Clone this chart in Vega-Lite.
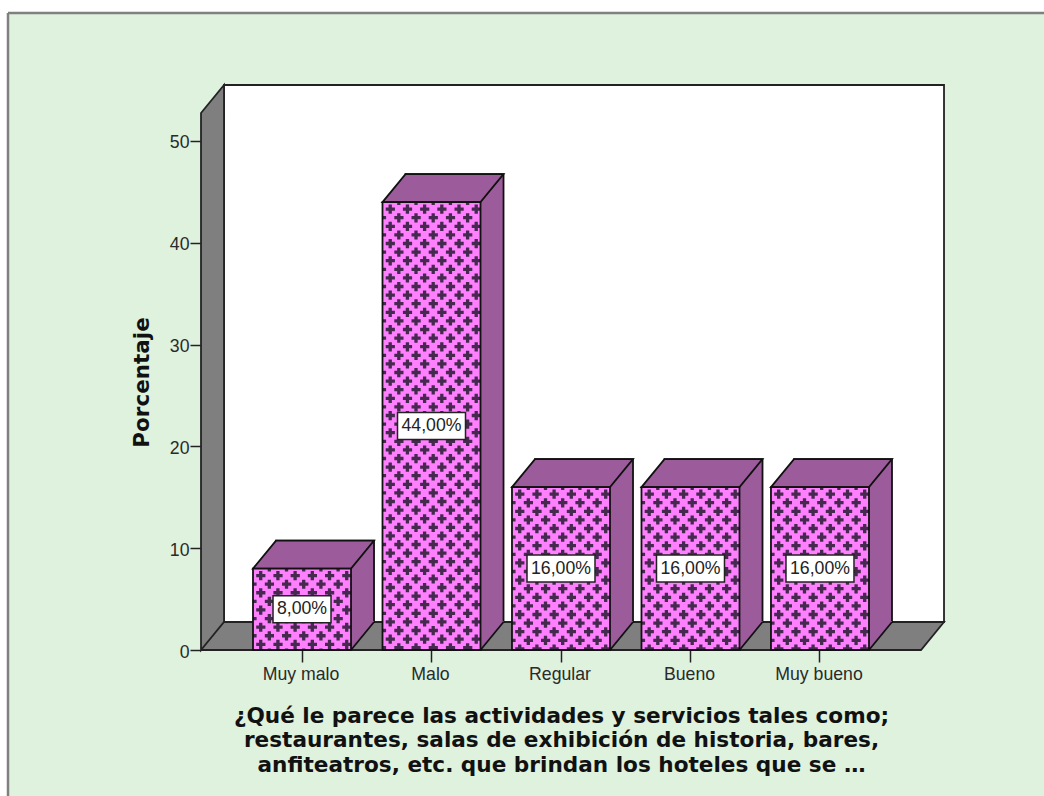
{"$schema":"https://vega.github.io/schema/vega-lite/v6.json","width":1036,"height":783,"autosize":{"type":"none"},"padding":{"left":8,"top":13,"right":0,"bottom":0},"background":"#ffffff","view":{"fill":"#def2de","stroke":null},"data":{"values":[{"categoria":"Muy malo","porcentaje":8,"etiqueta":"8,00%"},{"categoria":"Malo","porcentaje":44,"etiqueta":"44,00%"},{"categoria":"Regular","porcentaje":16,"etiqueta":"16,00%"},{"categoria":"Bueno","porcentaje":16,"etiqueta":"16,00%"},{"categoria":"Muy bueno","porcentaje":16,"etiqueta":"16,00%"}]},"encoding":{"x":{"field":"categoria","type":"nominal","scale":{"type":"band","domain":["Muy malo","Malo","Regular","Bueno","Muy bueno"],"range":[245,861],"paddingInner":0.243,"paddingOuter":0},"axis":{"orient":"bottom","offset":-146,"domain":false,"grid":false,"labelAngle":0,"labelFont":"Liberation Sans","labelFontSize":17.7,"labelColor":"#2a2a2a","labelPadding":3,"labelOffset":-1,"tickSize":12,"tickColor":"#222222","tickWidth":1.5,"title":["¿Qué le parece las actividades y servicios tales como;","restaurantes, salas de exhibición de historia, bares,","anfiteatros, etc. que brindan los hoteles que se …"],"titleFont":"DejaVu Sans","titleFontSize":21.6,"titleFontWeight":"bold","titleColor":"#111111","titleLineHeight":24.5,"titleX":553,"titleY":72,"titleBaseline":"alphabetic","titleAlign":"center","titleAnchor":"middle"}},"y":{"field":"porcentaje","type":"quantitative","scale":{"domain":[0,52.75],"range":[637,100],"nice":false},"axis":{"orient":"left","offset":-193,"domain":false,"grid":false,"values":[0,10,20,30,40,50],"labelFont":"Liberation Sans","labelFontSize":17.7,"labelColor":"#2a2a2a","labelPadding":1,"labelOffset":2,"tickSize":11,"tickColor":"#222222","tickWidth":1.5,"title":"Porcentaje","titleFont":"DejaVu Sans","titleFontSize":21.5,"titleFontWeight":"bold","titleColor":"#111111","titleX":-53,"titleY":369,"titleBaseline":"alphabetic","titleAlign":"center"}}},"layer":[{"transform":[{"filter":"datum.categoria === 'Muy malo'"}],"mark":{"type":"rule","color":"#808080","strokeWidth":2.5},"encoding":{"x":{"value":0},"y":{"value":0},"y2":{"value":783}}},{"transform":[{"filter":"datum.categoria === 'Muy malo'"}],"mark":{"type":"rule","color":"#808080","strokeWidth":2.5},"encoding":{"x":{"value":0},"x2":{"value":1036},"y":{"value":0}}},{"transform":[{"filter":"datum.categoria === 'Muy malo'"}],"mark":{"type":"point","shape":"M-78 -565L642 -565L642 -28L-78 -28Z","size":4,"filled":true,"fill":"#ffffff","stroke":"#222222","strokeWidth":1.8,"opacity":1},"encoding":{"y":{"datum":0}}},{"transform":[{"filter":"datum.categoria === 'Muy malo'"}],"mark":{"type":"point","shape":"M-101 -537L-78 -565L-78 -28L-101 0ZM-101 0L-78 -28L642 -28L619 0Z","size":4,"filled":true,"fill":"#7f7f7f","stroke":"#222222","strokeWidth":1.8,"opacity":1},"encoding":{"y":{"datum":0}}},{"mark":{"type":"bar","fill":"#9c5c9c","stroke":"#111111","strokeWidth":1.8,"xOffset":23,"x2Offset":23,"yOffset":-28,"y2Offset":-28},"encoding":{"y2":{"datum":0}}},{"mark":{"type":"point","shape":"M49 0L72 -28L72 -29L49 -29Z","size":4,"filled":true,"fill":"#9c5c9c","strokeWidth":0,"opacity":1},"encoding":{"y":{"datum":0}}},{"mark":{"type":"point","shape":"M49 0L72 -28","size":4,"filled":false,"stroke":"#111111","strokeWidth":1.8,"opacity":1},"encoding":{"y":{"datum":0}}},{"mark":{"type":"point","shape":"M-49 0L-26 -28L72 -28L49 0Z","size":4,"filled":true,"fill":"#9c5c9c","stroke":"#111111","strokeWidth":1.8,"opacity":1}},{"mark":{"type":"bar","fill":"#ff80ff","strokeWidth":0},"encoding":{"y2":{"datum":0}}},{"mark":{"type":"point","size":4,"filled":false,"stroke":"#45294f","strokeWidth":3.3,"strokeDash":[9.2,8],"opacity":1},"encoding":{"shape":{"field":"etiqueta","type":"nominal","legend":null,"scale":{"domain":["8,00%","44,00%","16,00%"],"range":["M-45.8 7h94.8m-98 8.6h3.6m8.2 0h86.2m-94.8 8.6h94.8m-98 8.6h3.6m8.2 0h86.2m-94.8 8.6h94.8m-98 8.6h3.6m8.2 0h86.2m-94.8 8.6h94.8m-98 8.6h3.6m8.2 0h86.2m-94.8 8.6h94.8M-41.3 2.5v78.9m8.6 -81.4v2.9m0 8.2v70.3m8.6 -78.9v78.9m8.6 -81.4v2.9m0 8.2v70.3m8.6 -78.9v78.9m8.6 -81.4v2.9m0 8.2v70.3m8.6 -78.9v78.9m8.6 -81.4v2.9m0 8.2v70.3m8.6 -78.9v78.9m8.6 -81.4v2.9m0 8.2v70.3m8.6 -78.9v78.9","M-45.8 7h94.8m-98 8.6h3.6m8.2 0h86.2m-94.8 8.6h94.8m-98 8.6h3.6m8.2 0h86.2m-94.8 8.6h94.8m-98 8.6h3.6m8.2 0h86.2m-94.8 8.6h94.8m-98 8.6h3.6m8.2 0h86.2m-94.8 8.6h94.8m-98 8.6h3.6m8.2 0h86.2m-94.8 8.6h94.8 m-98 8.6h3.6m8.2 0h86.2m-94.8 8.6h94.8m-98 8.6h3.6m8.2 0h86.2m-94.8 8.6h94.8m-98 8.6h3.6m8.2 0h86.2m-94.8 8.6h94.8m-98 8.6h3.6m8.2 0h86.2m-94.8 8.6h94.8m-98 8.6h3.6m8.2 0h86.2m-94.8 8.6h94.8 m-98 8.6h3.6m8.2 0h86.2m-94.8 8.6h94.8m-98 8.6h3.6m8.2 0h86.2m-94.8 8.6h94.8m-98 8.6h3.6m8.2 0h86.2m-94.8 8.6h94.8m-98 8.6h3.6m8.2 0h86.2m-94.8 8.6h94.8m-98 8.6h3.6m8.2 0h86.2m-94.8 8.6h94.8 m-98 8.6h3.6m8.2 0h86.2m-94.8 8.6h94.8m-98 8.6h3.6m8.2 0h86.2m-94.8 8.6h94.8m-98 8.6h3.6m8.2 0h86.2m-94.8 8.6h94.8m-98 8.6h3.6m8.2 0h86.2m-94.8 8.6h94.8m-98 8.6h3.6m8.2 0h86.2m-94.8 8.6h94.8 m-98 8.6h3.6m8.2 0h86.2m-94.8 8.6h94.8m-98 8.6h3.6m8.2 0h86.2m-94.8 8.6h94.8m-98 8.6h3.6m8.2 0h86.2m-94.8 8.6h94.8m-98 8.6h3.6m8.2 0h86.2m-94.8 8.6h94.8m-98 8.6h3.6m8.2 0h86.2m-94.8 8.6h94.8 m-98 8.6h3.6m8.2 0h86.2M-41.3 2.5v445.4m8.6 -447.9v2.9m0 8.2v436.8m8.6 -445.4v445.4m8.6 -447.9v2.9m0 8.2v436.8m8.6 -445.4v445.4m8.6 -447.9v2.9m0 8.2v436.8m8.6 -445.4v445.4m8.6 -447.9v2.9m0 8.2v436.8m8.6 -445.4v445.4m8.6 -447.9v2.9m0 8.2v436.8m8.6 -445.4v445.4","M-45.8 7h94.8m-98 8.6h3.6m8.2 0h86.2m-94.8 8.6h94.8m-98 8.6h3.6m8.2 0h86.2m-94.8 8.6h94.8m-98 8.6h3.6m8.2 0h86.2m-94.8 8.6h94.8m-98 8.6h3.6m8.2 0h86.2m-94.8 8.6h94.8m-98 8.6h3.6m8.2 0h86.2m-94.8 8.6h94.8m-98 8.6h3.6m8.2 0h86.2m-94.8 8.6h94.8m-98 8.6h3.6m8.2 0h86.2m-94.8 8.6h94.8m-98 8.6h3.6m8.2 0h86.2m-94.8 8.6h94.8m-98 8.6h3.6m8.2 0h86.2m-94.8 8.6h94.8M-41.3 2.5v160.4m8.6 -162.9v2.9m0 8.2v151.8m8.6 -160.4v160.4m8.6 -162.9v2.9m0 8.2v151.8m8.6 -160.4v160.4m8.6 -162.9v2.9m0 8.2v151.8m8.6 -160.4v160.4m8.6 -162.9v2.9m0 8.2v151.8m8.6 -160.4v160.4m8.6 -162.9v2.9m0 8.2v151.8m8.6 -160.4v160.4"]}}}},{"mark":{"type":"bar","fillOpacity":0,"stroke":"#111111","strokeWidth":1.8},"encoding":{"y2":{"datum":0}}},{"transform":[{"calculate":"datum.porcentaje / 2","as":"mitad"}],"mark":{"type":"point","size":4,"filled":true,"fill":"#ffffff","stroke":"#222222","strokeWidth":1.5,"opacity":1},"encoding":{"y":{"field":"mitad","type":"quantitative"},"shape":{"field":"etiqueta","type":"nominal","legend":null,"scale":{"domain":["8,00%","44,00%","16,00%"],"range":["M-29 -13.5H29V13.5H-29Z","M-34 -13.5H34V13.5H-34Z","M-34 -13.5H34V13.5H-34Z"]}}}},{"transform":[{"calculate":"datum.porcentaje / 2","as":"mitad"}],"mark":{"type":"text","font":"Liberation Sans","fontSize":17.7,"color":"#222222","align":"center","baseline":"middle"},"encoding":{"y":{"field":"mitad","type":"quantitative"},"text":{"field":"etiqueta"}}}],"resolve":{"scale":{"shape":"independent"}}}
